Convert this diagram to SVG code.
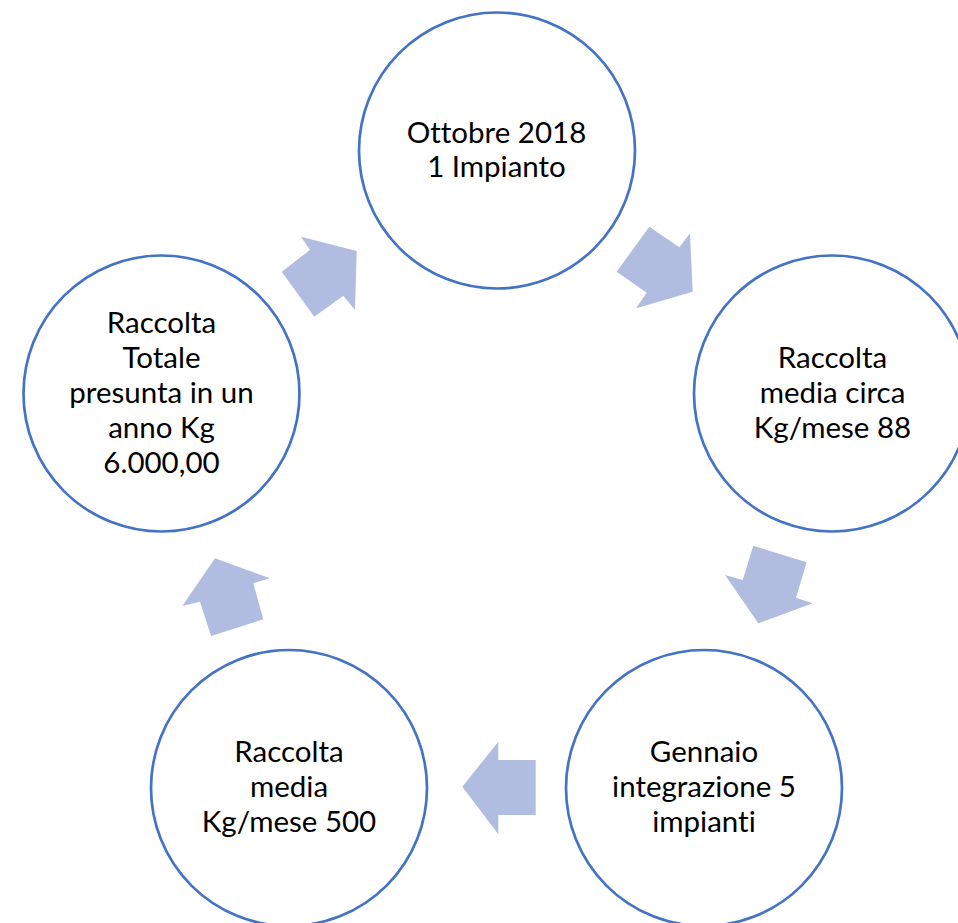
<svg xmlns="http://www.w3.org/2000/svg" width="958" height="923" viewBox="0 0 958 923">
<style>
.node{fill:#FFFFFF;stroke:#4472C4;stroke-width:2.7}
.arrow{fill:#B1BDE0;stroke:none}
text{font-family:Lato,"Open Sans","Liberation Sans",sans-serif;font-size:29.5px;fill:#000000;text-anchor:middle;font-variant-ligatures:none;font-feature-settings:"liga" 0}
</style>
<rect width="958" height="923" fill="#FFFFFF"/>
<g id="connectors">
<polygon class="arrow" points="649.3,226.7 679.3,247.3 690,233.3 692.7,291.7 636,308.3 646.7,292.7 616.7,271.7"/>
<polygon class="arrow" points="753.3,545.7 806.7,562.3 796,597.7 812.7,603.3 758.3,623.3 725,575 742.7,580"/>
<polygon class="arrow" points="535.7,760 535.7,815 498.3,815 498.3,834.3 462.3,786.7 498.3,741.7 498.3,760"/>
<polygon class="arrow" points="215,558.3 270,578.3 253.3,583.3 263.3,619.3 211,636 200,601.7 182.3,606"/>
<polygon class="arrow" points="301,236.7 356.7,251 355,310 343.3,295.7 314.3,316.7 281.7,271.7 310,250"/>
</g>
<g id="node-ottobre">
<circle class="node" cx="497" cy="150.5" r="138"/>
<text x="496.5" y="143">Ottobre 2018</text>
<text x="496.5" y="177">1 Impianto</text>
</g>
<g id="node-raccolta-media-88">
<circle class="node" cx="832" cy="393.5" r="138"/>
<text x="832.5" y="368">Raccolta</text>
<text x="832.5" y="403">media circa</text>
<text x="832.5" y="438">Kg/mese 88</text>
</g>
<g id="node-gennaio">
<circle class="node" cx="704" cy="788" r="138"/>
<text x="704" y="762">Gennaio</text>
<text x="704" y="797">integrazione 5</text>
<text x="704" y="832">impianti</text>
</g>
<g id="node-raccolta-media-500">
<circle class="node" cx="289" cy="788" r="138"/>
<text x="289" y="762">Raccolta</text>
<text x="289" y="797">media</text>
<text x="289" y="832">Kg/mese 500</text>
</g>
<g id="node-raccolta-totale">
<circle class="node" cx="161.5" cy="393.5" r="138"/>
<text x="161.5" y="333">Raccolta</text>
<text x="161.5" y="368">Totale</text>
<text x="161.5" y="403">presunta in un</text>
<text x="161.5" y="438">anno Kg</text>
<text x="161.5" y="473">6.000,00</text>
</g>
</svg>
